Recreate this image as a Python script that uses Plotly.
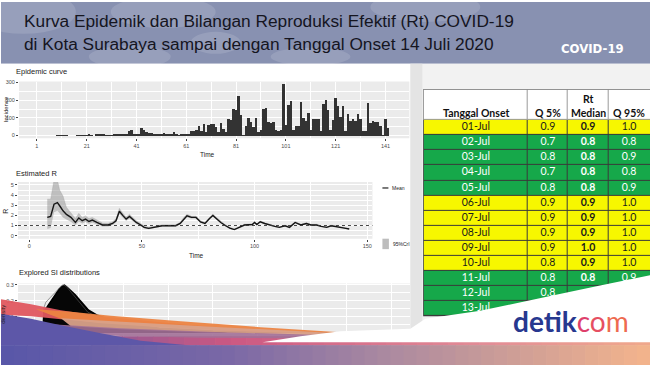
import plotly.graph_objects as go

W, H = 650, 365

# ------------------------------------------------------------------ data
incidence = [
    0, 0, 0, 0, 0, 0, 0, 0, 2, 1,
    3, 2, 2, 0, 0, 0, 1, 2, 1, 1,
    2, 12, 3, 0, 10, 8, 7, 6, 5, 3,
    2, 8, 10, 9, 8, 12, 14, 30, 34, 8,
    9, 10, 45, 35, 22, 18, 15, 12, 10, 8,
    14, 15, 13, 14, 12, 20, 10, 4, 14, 12,
    14, 10, 30, 30, 32, 55, 30, 70, 25, 65,
    70, 66, 50, 20, 75, 42, 25, 95, 90, 155,
    146, 225, 118, 5, 56, 100, 80, 52, 103, 25,
    34, 155, 160, 80, 71, 77, 33, 30, 36, 292,
    65, 175, 197, 32, 56, 56, 193, 100, 85, 133,
    35, 96, 94, 96, 30, 180, 206, 146, 33, 90,
    217, 169, 109, 169, 31, 127, 85, 94, 85, 127,
    94, 29, 30, 187, 75, 85, 80, 80, 56, 5,
    94, 43,
]
days = list(range(1, len(incidence) + 1))
epi_ticks = [1, 21, 41, 61, 81, 101, 121, 141]
epi_minor = [11, 31, 51, 71, 91, 111, 131]
epi_yticks = [0, 100, 200, 300]

r_time = [8, 9.5, 11, 12.5, 13.5, 15, 16.5, 18.5, 20.5, 22, 23.5, 25, 26.5, 28, 30,
          32.5, 35, 37, 38.5, 40, 41.5, 43, 44.5, 46, 47.5, 49.5, 51, 53, 56, 59,
          62, 65, 67, 68.5, 70, 72, 74, 76, 78, 80, 81.5, 83, 85, 87, 89,
          91, 93.5, 95.5, 99, 100, 101, 102.5, 104.5, 106.5, 109, 111, 113.5, 115.5, 118, 120.5,
          123, 125, 127.5, 129.5, 132, 134, 136, 138.5, 140.5, 142]
r_mean = [1.8, 1.9, 3.1, 3.25, 2.95, 2.45, 2.1, 1.8, 1.3, 1.75, 1.47, 1.63, 1.4, 1.53, 1.3,
          1.05, 1.05, 1.2, 1.47, 2.4, 2.0, 1.63, 1.9, 1.63, 1.3, 1.05, 0.82, 0.72, 0.82, 0.98,
          0.98, 0.98, 1.2, 1.63, 1.95, 1.8, 1.8, 1.35, 1.2, 1.7, 2.0, 1.7, 1.3, 1.0, 0.75,
          0.6, 0.82, 1.05, 1.1, 1.3, 1.1, 1.37, 1.2, 1.05, 0.92, 0.82, 0.98, 0.82, 1.3, 1.05,
          1.2, 1.05, 1.05, 0.92, 0.82, 0.98, 0.92, 0.82, 0.72, 0.65]
r_low = [0.65, 0.75, 2.3, 2.45, 2.2, 1.8, 1.6, 1.37, 1.0, 1.4, 1.2, 1.35, 1.15, 1.3, 1.1,
         0.9, 0.9, 1.05, 1.3, 2.1, 1.8, 1.45, 1.7, 1.45, 1.15, 0.93, 0.72, 0.63, 0.73, 0.9,
         0.9, 0.9, 1.1, 1.5, 1.82, 1.68, 1.68, 1.25, 1.12, 1.6, 1.9, 1.6, 1.22, 0.93, 0.69,
         0.55, 0.76, 0.98, 1.03, 1.22, 1.03, 1.3, 1.13, 0.99, 0.86, 0.77, 0.92, 0.77, 1.23, 0.99,
         1.13, 0.99, 0.99, 0.87, 0.77, 0.92, 0.87, 0.77, 0.67, 0.6]
r_high = [3.6, 3.6, 5.5, 5.5, 4.5, 3.9, 2.8, 2.3, 1.7, 2.2, 1.8, 1.95, 1.7, 1.8, 1.55,
          1.25, 1.22, 1.38, 1.66, 2.7, 2.22, 1.83, 2.1, 1.82, 1.47, 1.2, 0.95, 0.83, 0.92, 1.07,
          1.07, 1.07, 1.32, 1.78, 2.1, 1.93, 1.93, 1.46, 1.3, 1.82, 2.12, 1.82, 1.4, 1.08, 0.82,
          0.66, 0.89, 1.13, 1.17, 1.39, 1.17, 1.45, 1.28, 1.12, 0.98, 0.88, 1.05, 0.88, 1.38, 1.12,
          1.28, 1.12, 1.12, 0.98, 0.88, 1.05, 0.98, 0.88, 0.78, 0.71]
r_xticks = [0, 50, 100, 150]
r_xminor = [25, 75, 125]
r_yticks = [0, 1, 2, 3, 4, 5]
r_yminor = [0.5, 1.5, 2.5, 3.5, 4.5]

si_days = [1.0, 1.1, 1.5, 2.0, 2.4, 2.8, 3.1, 3.4, 3.7, 4.1, 4.6, 5.1, 5.6, 6.1, 7.0,
           8.0, 10.0, 14.0, 20.0, 26.0, 30.0, 34.5]
si_density = [0.0, 0.135, 0.165, 0.205, 0.245, 0.272, 0.288, 0.297, 0.283, 0.262, 0.238,
              0.205, 0.17, 0.142, 0.112, 0.092, 0.062, 0.03, 0.012, 0.006, 0.003, 0.0]
si_alt_days = [1.0, 1.3, 1.8, 2.3, 2.8, 3.2, 3.6, 4.2, 5.0, 6.0, 7.5]
si_alt_density = [0.14, 0.19, 0.22, 0.25, 0.28, 0.30, 0.29, 0.25, 0.19, 0.13, 0.09]
si_xticks = [0, 10, 20, 30, 40]
si_xminor = [5, 15, 25, 35]
si_yticks = [0.0, 0.1, 0.2, 0.3]
si_yminor = [0.05, 0.15, 0.25]

onset_dates = ["01-Jul", "02-Jul", "03-Jul", "04-Jul", "05-Jul", "06-Jul", "07-Jul",
               "08-Jul", "09-Jul", "10-Jul", "11-Jul", "12-Jul", "13-Jul"]
# values hidden under the banner in the source are left as None
rt_q05 = [0.9, 0.7, 0.8, 0.7, 0.8, 0.9, 0.9, 0.9, 0.9, 0.8, 0.8, 0.8, None]
rt_median = [0.9, 0.8, 0.8, 0.8, 0.8, 0.9, 0.9, 0.9, 1.0, 0.9, 0.8, None, None]
rt_q95 = [1.0, 0.8, 0.9, 0.8, 0.9, 1.0, 1.0, 1.0, 1.0, 1.0, 0.9, None, None]
table_headers = ["Tanggal Onset", "Q 5%", "Rt<br>Median", "Q 95%"]

title_line1 = "Kurva Epidemik dan Bilangan Reproduksi Efektif (Rt) COVID-19"
title_line2 = "di Kota Surabaya sampai dengan Tanggal Onset 14 Juli 2020"

# ------------------------------------------------------------------ helpers
GG = "Liberation Sans, Arial, sans-serif"
SANS = "Liberation Sans, Arial, sans-serif"
COND = "DejaVu Sans Condensed, DejaVu Sans, sans-serif"
TABLEF = "Lato, Open Sans, sans-serif"


def dom_x(a, b):
    return [a / W, b / W]


def dom_y(top, bottom):
    return [1 - bottom / H, 1 - top / H]


def paper_rect(x0, y0, x1, y1, color, **kw):
    d = dict(type="rect", xref="paper", yref="paper", x0=x0 / W, x1=x1 / W,
             y0=1 - y1 / H, y1=1 - y0 / H, fillcolor=color, line=dict(width=0), layer="below")
    d.update(kw)
    return d


def over_path(points, color, opacity=1.0):
    p = "M " + " L ".join(f"{x},{y}" for x, y in points) + " Z"
    return dict(type="path", xref="x5", yref="y5", path=p, fillcolor=color,
                line=dict(width=0), layer="above", opacity=opacity)


def lerp(stops, t):
    for (p0, c0), (p1, c1) in zip(stops, stops[1:]):
        if p0 <= t <= p1:
            f = (t - p0) / (p1 - p0) if p1 > p0 else 0
            return "rgb(%d,%d,%d)" % tuple(round(a + (b - a) * f) for a, b in zip(c0, c1))
    return "rgb(%d,%d,%d)" % stops[-1][1]


def grad_rects(x0, x1, y0, y1, stops, n=40):
    out = []
    w = (x1 - x0) / n
    for i in range(n):
        t = (i + 0.5) / n
        out.append(dict(type="rect", xref="x5", yref="y5", x0=x0 + i * w, x1=x0 + (i + 1) * w + 0.7,
                        y0=y0, y1=y1, fillcolor=lerp(stops, t), line=dict(width=0), layer="above"))
    return out


def gg_axis(domain, rng, tickvals, anchor, minor=None, ticktext=None, **kw):
    d = dict(domain=domain, range=rng, tickmode="array", tickvals=tickvals, anchor=anchor,
             showgrid=True, gridcolor="white", gridwidth=1.1, zeroline=False, showline=False,
             ticks="outside", ticklen=2, tickwidth=0.6, tickcolor="#444",
             tickfont=dict(size=5.5, color="#4d4d4d", family=GG), fixedrange=True)
    if ticktext is not None:
        d["ticktext"] = ticktext
    if minor is not None:
        d["minor"] = dict(tickmode="array", tickvals=minor, showgrid=True, gridcolor="white",
                          gridwidth=0.5, ticks="")
    d.update(kw)
    return d


# panel pixel boxes (x0, x1, y_top, y_bottom)
EPI = (18, 409, 80, 137)
RPN = (17, 372, 181, 238)
SIP = (17, 410, 283, 345)
TBL_X0, TBL_Y0, ROW_H = 423.3, 88.3, 15.18

fig = go.Figure()

# ---- epidemic curve
fig.add_trace(go.Bar(x=days, y=incidence, width=1, marker=dict(color="#333333", line=dict(width=0)),
                     xaxis="x", yaxis="y", hoverinfo="skip"))

# ---- estimated R
fig.add_trace(go.Scatter(x=r_time, y=r_low, mode="lines", line=dict(width=0, color="rgba(0,0,0,0)"),
                         xaxis="x2", yaxis="y2", hoverinfo="skip"))
fig.add_trace(go.Scatter(x=r_time, y=r_high, mode="lines", line=dict(width=0.5, color="rgba(150,150,150,0.5)"),
                         fill="tonexty", fillcolor="rgba(145,145,145,0.5)", xaxis="x2", yaxis="y2",
                         hoverinfo="skip"))
fig.add_trace(go.Scatter(x=r_time, y=r_mean, mode="lines", line=dict(width=1.4, color="#151515"),
                         xaxis="x2", yaxis="y2", hoverinfo="skip"))

# ---- SI distributions
fig.add_trace(go.Scatter(x=si_days, y=si_density, mode="lines", fill="tozeroy", fillcolor="#060606",
                         line=dict(color="#000000", width=1.6), xaxis="x3", yaxis="y3", hoverinfo="skip"))
fig.add_trace(go.Scatter(x=si_alt_days, y=si_alt_density, mode="lines",
                         line=dict(color="rgba(90,90,90,0.85)", width=0.7), xaxis="x3", yaxis="y3",
                         hoverinfo="skip"))

# ---- table (cell fills via heatmap, text via scatter)
col_edges = [0, 105, 145, 185.7, 240]
row_edges = [0, 2] + list(range(3, 3 + len(onset_dates)))
row_code = [2 if (m is not None and m >= 0.9) else 1 for m in rt_median]
z = [[0, 0, 0, 0]] + [[c] * 4 for c in row_code]
fig.add_trace(go.Heatmap(z=z, x=col_edges, y=row_edges, zmin=0, zmax=2,
                         colorscale=[[0, "#ffffff"], [0.5, "#16a84a"], [1, "#f7f700"]],
                         showscale=False, xgap=1, ygap=1, xaxis="x4", yaxis="y4", hoverinfo="skip"))
vis_right = 227.7
col_mid = [(col_edges[i] + min(col_edges[i + 1], vis_right)) / 2 for i in range(4)]
tx, ty, tt, tc = [], [], [], []
for i, d in enumerate(onset_dates):
    yc = row_edges[i + 1] + 0.5
    color = "#1a1a1a" if row_code[i] == 2 else "#ffffff"
    vals = [d,
            None if rt_q05[i] is None else f"{rt_q05[i]:.1f}",
            None if rt_median[i] is None else f"<b>{rt_median[i]:.1f}</b>",
            None if rt_q95[i] is None else f"{rt_q95[i]:.1f}"]
    for j in range(4):
        if vals[j] is None:
            continue
        tx.append(col_mid[j])
        ty.append(yc)
        tt.append(vals[j])
        tc.append(color)
fig.add_trace(go.Scatter(x=tx, y=ty, text=tt, mode="text", textposition="middle center",
                         textfont=dict(family=TABLEF, size=10.5, color=tc), xaxis="x4", yaxis="y4",
                         hoverinfo="skip"))

# dummy trace for overlay axes
fig.add_trace(go.Scatter(x=[None], y=[None], xaxis="x5", yaxis="y5", hoverinfo="skip"))

# ------------------------------------------------------------------ shapes
shapes = []
shapes.append(paper_rect(0, 0, W, 62, "#8891b1"))
for (x0, y0, x1, y1) in [(-30, -12, 75, 32), (110, -6, 215, 26), (370, -10, 480, 20),
                         (88, 44, 170, 66), (270, 46, 350, 64), (190, 30, 240, 52)]:
    shapes.append(dict(type="circle", xref="paper", yref="paper", x0=x0 / W, x1=x1 / W,
                       y0=1 - y1 / H, y1=1 - y0 / H, fillcolor="rgba(255,255,255,0.13)",
                       line=dict(width=0), layer="below"))
shapes.append(paper_rect(0, 62, 410, H, "#ffffff"))
shapes.append(paper_rect(410, 62, W, 345, "#f2f2f2"))
shapes.append(paper_rect(410, 62, 422, 345, "#e4e4e4"))
for (x0, x1, yt, yb) in (EPI, RPN, SIP):
    shapes.append(paper_rect(x0, yt, x1, yb, "#ebebeb"))
shapes.append(paper_rect(TBL_X0 - 0.5, TBL_Y0 - 0.5, W, TBL_Y0 + ROW_H * row_edges[-1], "#3a3a3a"))
shapes.append(paper_rect(TBL_X0 - 0.5, TBL_Y0 - 0.5, W, TBL_Y0 + 2 * ROW_H, "#9a9a9a"))
shapes.append(dict(type="line", xref="x2 domain", yref="y2", x0=0, x1=1, y0=1, y1=1,
                   line=dict(color="#333333", width=0.9, dash="dot"), layer="above"))

# legend keys for R panel
shapes.append(dict(type="line", xref="x5", yref="y5", x0=382, x1=388, y0=187, y1=187,
                   line=dict(color="#222", width=1.2), layer="above"))
shapes.append(dict(type="rect", xref="x5", yref="y5", x0=382, x1=388.5, y0=238, y1=248.5,
                   fillcolor="#bdbdbd", line=dict(width=0), layer="above"))

# ---- decorative swoosh at the bottom
shapes += grad_rects(90, W, 336, 345.5, [(0, (140, 90, 150)), (0.25, (204, 88, 130)),
                                         (0.7, (226, 140, 150)), (1, (240, 168, 140))], n=36)
shapes.append(over_path([(0, 299), (30, 304), (60, 310), (100, 316), (160, 322), (240, 329), (300, 333),
                         (240, 331), (160, 326.5), (100, 322.5), (60, 319), (30, 316), (0, 314.5)],
                        "#e0575f", 0.95))
shapes.append(over_path([(35, 309), (70, 311.5), (110, 315.5), (180, 321), (260, 327), (340, 332),
                         (410, 335), (330, 334), (250, 331), (160, 327), (100, 323), (60, 318.5)],
                        "#ec8442", 0.95))
shapes.append(over_path([(60, 318), (130, 322), (220, 327), (320, 332), (400, 336), (300, 335),
                         (200, 332), (120, 329), (70, 326)], "#d9a189", 0.95))
shapes.append(over_path([(50, 324), (120, 328), (220, 332), (330, 335), (450, 338), (320, 338.5),
                         (200, 337.5), (110, 335.5), (60, 333)], "#a27097", 0.9))
shapes.append(over_path([(0, 313.5), (30, 318.5), (60, 325), (100, 333), (140, 340.5), (190, 345.5),
                         (0, 345.5)], "#5d57a8"))
shapes.append(over_path([(262, 342), (300, 336), (340, 331), (410, 328.5), (425, 318.5), (480, 310.5),
                         (550, 295.5), (600, 285), (W + 1, 274.5), (W + 1, 342), (262, 342)], "#ffffff"))
shapes += grad_rects(0, W, 345, H + 1, [(0, (88, 86, 168)), (0.35, (122, 104, 166)),
                                        (0.6, (172, 138, 160)), (1, (244, 180, 140))], n=50)


# ------------------------------------------------------------------ annotations
def ann(x, y, text, size, color="#222222", family=GG, xanchor="left", **kw):
    d = dict(x=x, y=y, xref="x5", yref="y5", text=text, showarrow=False, xanchor=xanchor,
             yanchor="middle", font=dict(size=size, color=color, family=family))
    d.update(kw)
    return d


annotations = [
    ann(21, 19, title_line1, 17.3, "#15151f", SANS),
    ann(21, 42, title_line2, 17.3, "#15151f", SANS),
    ann(592, 47, "<b>COVID-19</b>", 13, "#ffffff", COND, xanchor="center"),
    ann(13, 70, "Epidemic curve", 7.5),
    ann(5, 108, "Incidence", 6, xanchor="center", textangle=-90),
    ann(207, 153, "Time", 6.5, xanchor="center"),
    ann(13, 172, "Estimated R", 7.5),
    ann(5, 210, "R", 7, xanchor="center", textangle=-90),
    ann(196, 255, "Time", 6.5, xanchor="center"),
    ann(390, 187, "Mean", 5),
    ann(391, 243, "95%CrI", 5),
    ann(16, 272, "Explored SI distributions", 7.5),
    ann(511, 321, "<b>detik</b><span style='color:#de3f6c'>c</span>"
                  "<span style='color:#e64f62'>o</span><span style='color:#ee6a50'>m</span>",
        28, "#27388f", "Lato, Open Sans, sans-serif"),
]
for j, htxt in enumerate(table_headers):
    parts = htxt.split("<br>")
    ys = [1.55] if len(parts) == 1 else [0.62, 1.55]
    for part, yy in zip(parts, ys):
        annotations.append(dict(x=col_mid[j], y=yy, xref="x4", yref="y4", text=f"<b>{part}</b>",
                                showarrow=False, font=dict(size=10.5, color="#111", family=TABLEF)))

# ------------------------------------------------------------------ layout
fig.update_layout(
    width=W, height=H, margin=dict(l=0, r=0, t=0, b=0),
    paper_bgcolor="#ffffff", plot_bgcolor="rgba(0,0,0,0)",
    showlegend=False, bargap=0,
    xaxis=gg_axis(dom_x(EPI[0], EPI[1]), [-6.2, 150.6], epi_ticks, "y", minor=epi_minor),
    yaxis=gg_axis(dom_y(EPI[2], EPI[3]), [-15.2, 305.6], epi_yticks, "x", minor=[50, 150, 250]),
    xaxis2=gg_axis(dom_x(RPN[0], RPN[1]), [-5.0, 152.3], r_xticks, "y2", minor=r_xminor),
    yaxis2=gg_axis(dom_y(RPN[2], RPN[3]), [-0.3, 5.29], r_yticks, "x2", minor=r_yminor),
    xaxis3=gg_axis(dom_x(SIP[0], SIP[1]), [-1.8, 42.1], si_xticks, "y3", minor=si_xminor),
    yaxis3=gg_axis(dom_y(SIP[2], SIP[3]), [-0.075, 0.308], si_yticks, "x3", minor=si_yminor,
                   ticktext=["0.0", "0.1", "0.2", "0.3"],
                   title=dict(text="density", font=dict(size=6, color="#222", family=GG), standoff=2)),
    xaxis4=dict(domain=[TBL_X0 / W, 1], range=[0, vis_right], visible=False, anchor="y4", fixedrange=True),
    yaxis4=dict(domain=dom_y(TBL_Y0, TBL_Y0 + ROW_H * row_edges[-1]), range=[row_edges[-1], 0],
                visible=False, anchor="x4", fixedrange=True),
    xaxis5=dict(domain=[0, 1], range=[0, W], visible=False, anchor="y5", fixedrange=True),
    yaxis5=dict(domain=[0, 1], range=[H, 0], visible=False, anchor="x5", fixedrange=True),
    shapes=shapes,
    annotations=annotations,
)

fig.write_html("out.html", config={"displayModeBar": False},
               post_script="document.body.style.margin='0';document.body.style.overflow='hidden';")
